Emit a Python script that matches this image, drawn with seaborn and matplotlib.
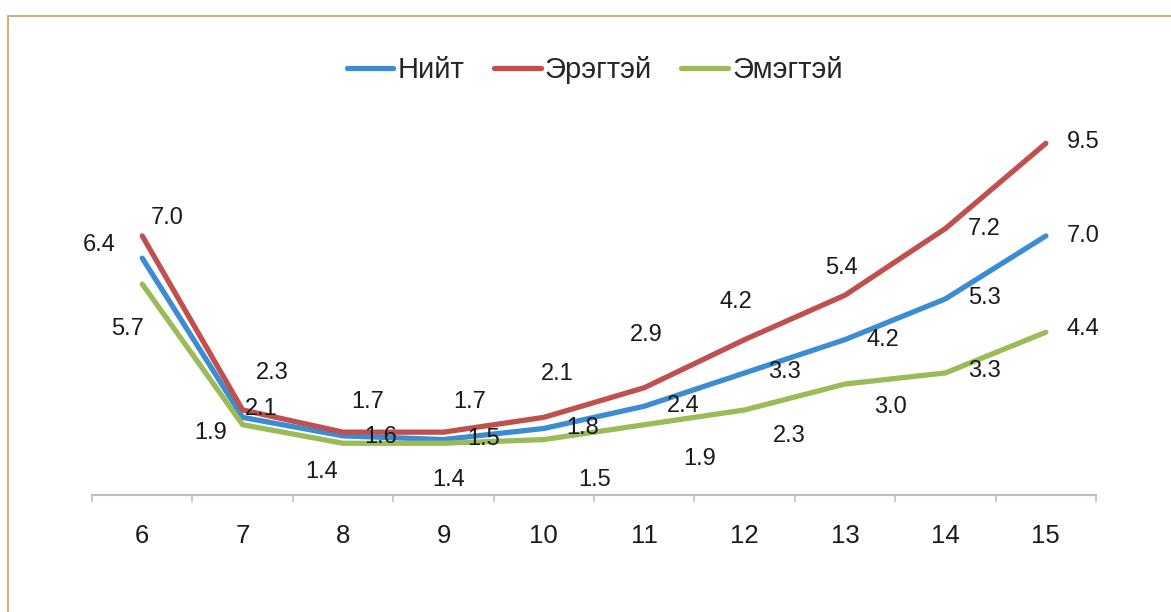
import seaborn as sns
import pandas as pd
import numpy as np
import matplotlib.pyplot as plt
from matplotlib.lines import Line2D

ages = [6, 7, 8, 9, 10, 11, 12, 13, 14, 15]
niit = [6.4, 2.1, 1.6, 1.5, 1.8, 2.4, 3.3, 4.2, 5.3, 7.0]
ergtei = [7.0, 2.3, 1.7, 1.7, 2.1, 2.9, 4.2, 5.4, 7.2, 9.5]
emegtei = [5.7, 1.9, 1.4, 1.4, 1.5, 1.9, 2.3, 3.0, 3.3, 4.4]
series_names = ['Нийт', 'Эрэгтэй', 'Эмэгтэй']

colors = ['#3a8dd2', '#c0504d', '#9bbb59']

# label offsets in pixels (dx, dy up), as the excel labels sit
off_niit = [(-43, 13), (19, 8), (38, -1), (40, 1), (39, 0), (39, 0), (40, 1), (38, 0), (39, 1), (37, 0)]
off_erg = [(25, 18), (30, 37), (25, 30), (26, 30), (13, 43), (2, 53), (-9, 38), (-4, 27), (39, 0), (37, 1)]
off_em = [(-15, -45), (-32, -8), (-21, -29), (5, -37), (51, -40), (55, -34), (45, -26), (45, -23), (39, 2), (37, 3)]

sns.set_style('white')
plt.rcParams['font.family'] = ['Liberation Sans', 'DejaVu Sans']

df = pd.DataFrame({
    'age': ages * 3,
    'value': niit + ergtei + emegtei,
    'group': [series_names[0]] * 10 + [series_names[1]] * 10 + [series_names[2]] * 10,
})

fig = plt.figure(figsize=(11.71, 6.12), dpi=100)
ax = fig.add_axes([0.0786, 0.191, 0.8574, 0.605])

sns.lineplot(data=df, x='age', y='value', hue='group', hue_order=series_names,
             palette=colors, linewidth=3.8, sort=False, ax=ax)
for ln in ax.lines:
    ln.set_solid_capstyle('round')
    ln.set_solid_joinstyle('round')

# data labels
for vals, offs in [(niit, off_niit), (ergtei, off_erg), (emegtei, off_em)]:
    for a, v, (dx, dy) in zip(ages, vals, offs):
        ax.annotate(f'{v:.1f}', (a, v), xytext=(dx, dy), textcoords='offset pixels',
                    ha='center', va='center', fontsize=17, color='#1a1a1a',
                    annotation_clip=False)

ax.set_xlim(ages[0] - 0.5, ages[-1] + 0.5)
ax.set_ylim(0, 10)
ax.set_xticks(np.arange(ages[0] - 0.5, ages[-1] + 1, 1))
ax.set_xticklabels([])
ax.set_xticks(ages, minor=True)
ax.set_xticklabels([str(a) for a in ages], minor=True)
ax.tick_params(axis='x', which='major', direction='out', length=5, width=1.2, color='#bfbfbf', bottom=True)
ax.tick_params(axis='x', which='minor', length=0, pad=21, labelsize=18.5, labelcolor='#1a1a1a')
ax.set_yticks([])
ax.set_xlabel('')
ax.set_ylabel('')
for s in ['top', 'right', 'left']:
    ax.spines[s].set_visible(False)
ax.spines['bottom'].set_color('#bfbfbf')
ax.spines['bottom'].set_linewidth(1.5)

handles, labels = ax.get_legend_handles_labels()
ax.get_legend().remove()
for h in handles:
    h.set_linewidth(3.8)
    h.set_solid_capstyle('round')
fig.legend(handles, labels, loc='center', bbox_to_anchor=(0.508, 0.885), ncol=3,
           frameon=False, fontsize=21, handlelength=1.6, handletextpad=0.15,
           columnspacing=1.0)

# tan frame around chart (top and left edges visible)
fig.add_artist(Line2D([8 / 1171, 8 / 1171], [0, 1 - 16 / 612], transform=fig.transFigure,
                      color='#c9a767', linewidth=1.3))
fig.add_artist(Line2D([8 / 1171, 1], [1 - 16 / 612, 1 - 16 / 612], transform=fig.transFigure,
                      color='#c9a767', linewidth=1.3))

fig.savefig('out.png', dpi=100)
